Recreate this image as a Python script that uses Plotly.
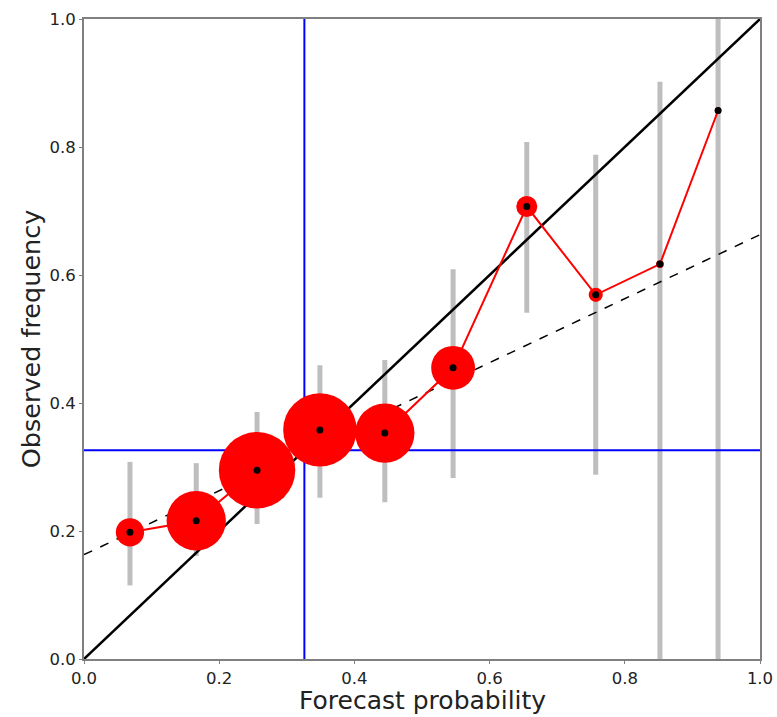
import plotly.graph_objects as go

# Reliability diagram data
forecast_prob = [0.068, 0.166, 0.256, 0.349, 0.445, 0.546, 0.655, 0.757, 0.852, 0.938]
observed_freq = [0.198, 0.216, 0.295, 0.358, 0.353, 0.455, 0.707, 0.569, 0.617, 0.857]
ci_lower = [0.115, 0.161, 0.211, 0.252, 0.245, 0.283, 0.541, 0.288, 0.0, 0.0]
ci_upper = [0.308, 0.306, 0.386, 0.459, 0.467, 0.609, 0.808, 0.788, 0.902, 1.0]
bin_counts = [40, 176, 292, 270, 176, 96, 22, 10, 3, 2]
climatology = 0.326
tick_vals = [0.0, 0.2, 0.4, 0.6, 0.8, 1.0]
tick_text = ["0.0", "0.2", "0.4", "0.6", "0.8", "1.0"]
x_title = "Forecast probability"
y_title = "Observed frequency"

FONT = "DejaVu Sans"

fig = go.Figure()

# confidence bars
bx, by = [], []
for x, lo, hi in zip(forecast_prob, ci_lower, ci_upper):
    bx += [x, x, None]
    by += [lo, hi, None]
fig.add_trace(go.Scatter(x=bx, y=by, mode="lines",
                         line=dict(color="#BEBEBE", width=5), hoverinfo="skip"))

# perfect reliability diagonal
fig.add_trace(go.Scatter(x=[0, 1], y=[0, 1], mode="lines",
                         line=dict(color="black", width=2.5)))

# no-skill line
ns_x = [0, 1]
ns_y = [climatology + 0.5 * (v - climatology) for v in ns_x]
fig.add_trace(go.Scatter(x=ns_x, y=ns_y, mode="lines",
                         line=dict(color="black", width=1.5, dash="dash")))

# climatology lines
fig.add_trace(go.Scatter(x=[climatology, climatology], y=[0, 1], mode="lines",
                         line=dict(color="#0000FF", width=2)))
fig.add_trace(go.Scatter(x=[0, 1], y=[climatology, climatology], mode="lines",
                         line=dict(color="#0000FF", width=2)))

# reliability curve with sized markers
fig.add_trace(go.Scatter(x=forecast_prob, y=observed_freq, mode="lines+markers",
                         line=dict(color="#FF0000", width=2),
                         marker=dict(color="#FF0000", size=bin_counts, opacity=1,
                                     sizemode="area", sizeref=0.1, sizemin=0,
                                     line=dict(width=0)),
                         cliponaxis=False))
fig.add_trace(go.Scatter(x=forecast_prob, y=observed_freq, mode="markers",
                         marker=dict(color="black", size=7, opacity=1, line=dict(width=0)),
                         cliponaxis=False))

axis_common = dict(range=[0, 1], tickvals=tick_vals, ticktext=tick_text,
                   showgrid=False, zeroline=False, showline=True, automargin=False,
                   linecolor="#808080", linewidth=2, mirror=True,
                   ticks="outside", ticklen=3, tickwidth=1, tickcolor="#808080",
                   tickfont=dict(size=16.5, color="#222222", family=FONT))

fig.update_layout(
    width=777, height=717,
    margin=dict(l=84, r=17, t=19, b=58),
    paper_bgcolor="white", plot_bgcolor="white",
    showlegend=False,
    xaxis=dict(**axis_common),
    yaxis=dict(**axis_common,
               title=dict(text=y_title, standoff=2,
                          font=dict(size=25.5, color="#222222", family=FONT))),
    annotations=[dict(text=x_title, xref="paper", yref="paper", x=0.5, y=0,
                      xanchor="center", yanchor="bottom", yshift=-57,
                      showarrow=False, borderpad=0,
                      font=dict(size=25, color="#222222", family=FONT))],
)

fig.write_html("out.html")
